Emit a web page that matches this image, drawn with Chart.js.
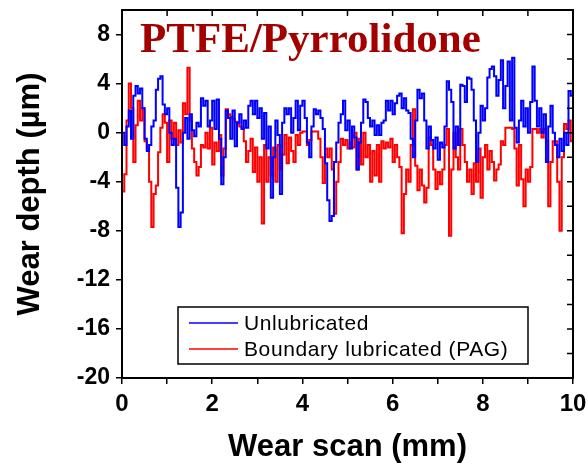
<!DOCTYPE html>
<html>
<head>
<meta charset="utf-8">
<script src="https://cdn.jsdelivr.net/npm/chart.js@4/dist/chart.umd.min.js"></script>
<style>
  html, body { margin: 0; padding: 0; background: #fff; }
  #wrap { width: 588px; height: 466px; }
</style>
</head>
<body>
<div id="wrap"><canvas id="myChart" width="588" height="466"></canvas></div>
<script>
// Dữ liệu (bước quét 0.05 mm, từ 0 đến 10 mm)
const scanStep = 0.05;
const seriesNames = ['Unlubricated', 'Boundary lubricated (PAG)'];

const unlubricated = [
  0, -1, 0.5, 1.8, -0.5, 3, 3.8, 3.2, 3.6, 2,
  -0.5, -1.5, -1, 0.5, 1, 3.5, 4.4, 4.6, 2.3, 1.5,
  2, 0, -1, -0.5, -4.5, -7.7, -6.5, 0, 1.2, -0.5,
  1.5, 0.2, -0.3, 0.8, 0.5, 2.8, 2.2, 2.6, 0.5, 1,
  2.6, 0.3, 2.7, -0.5, -4.2, -2, 1.8, 1.2, -0.5, 1.8,
  -1.1, 0.8, 1.5, 0.3, 1, 0.4, 2.2, 2.6, 1.5, 2.6,
  1.2, 2, -0.5, 1.6, -1.3, 0.5, -5.3, -2, 1, -0.2,
  -5, 0.8, 2, 1.5, 2, 0, 1.2, 2.6, 0.2, 2.2,
  2.6, 1.2, -0.8, -2, 0.5, 1.9, 1.5, 1.8, 1.2, 0.3,
  -2.5, -5.5, -7.2, -6.8, -2.4, -0.8, 0.8, 1.5, 2.6, 0.2,
  1, -1.3, 0.5, -0.4, -3, -0.8, 0.8, 2.7, 2.5, 1.2,
  0.5, 1, -0.2, 0.6, -0.2, 0.8, 1, 2.6, 1.8, 2.6,
  1.5, 2.4, 3, 3.2, 2, 2.8, 1.8, 1.6, -0.5, -2,
  1, 3.5, 2.8, 3.2, 1, -1.3, 0.5, -0.6, -1.3, -0.4,
  -2.2, -0.8, -1.2, 0.5, 4.2, 3.5, 2.5, -1.3, 0.5, -1,
  3.9, 3.8, 2.5, 4.5, 4.4, 3.5, 1, -2.4, 0, 2.2,
  1, 2, 4.5, 5.2, 5.4, 4.6, 3, 4.3, 5.9, 2,
  3.8, 5.8, 1, 6.1, 0.4, -0.8, 1, 2.6, 0.5, 2,
  0, 2.5, 5.4, 2.6, 0.5, 2, 0, 1.5, -2.4, 0.5,
  2.2, 0, -1, -2, -0.5, -1.5, 0, -1, 3.4, 3,
  1.8
];

const boundaryPAG = [
  -4.8, -3.4, 1, 4, 2, -2.4, 0.6, 2.6, 1, 2,
  -0.7, -1.3, -4, -7.7, -5, -4.3, -1.6, 0.4, 1.5, 0.8,
  -2.4, 1, -0.5, 0.8, -1, 0.2, -0.8, 2.4, 1.5, 5.3,
  1, -1.3, -2.4, -3.5, -2.8, -1, -1.2, 0, -1.3, 0.4,
  -2.6, -0.8, -1.5, -0.2, -3.5, -1.3, 1.9, 1.5, 1.3, 1.1,
  0.9, 0.7, 0.5, 0.4, -0.7, -2.4, -1.5, -0.5, -3.2, -1.2,
  -4, -2, -7.4, -1, -4, -2, -3.5, -1.2, -4, -1,
  -3, -1.8, -0.2, -2.5, -0.4, -1.5, -2.4, -0.2, -1, 0,
  0.1, 0.1, -1, -0.6, 0.1, 0.1, 0.1, -0.5, -2, -4.1,
  -1.3, -2, -1.3, -3, -6.6, -4, -2.4, -0.5, -1, -0.6,
  -1.3, -0.8, -1.2, 0, -3, -0.5, -2.6, 0, -2, -1,
  -4, -1.5, -3.5, -1, -4, -0.7, -1.3, -0.8, -1.2, -0.5,
  -2.4, -1, -2, -2.8, -8.2, -5, -3, -4, -1, 1.9,
  -2.7, -4.7, -3, -4.3, -5.7, -4.5, -0.4, -1, -3, -4.6,
  -3.2, -4.2, -3, -1, 0.3, -8.4, -3, 0, -2, -3,
  0.3, -1, -2.4, -4, -3, -5, -2.5, -4, -1.3, -5.3,
  -2, -1, -3, -1.5, -2.4, -3.9, -3, -2.6, -0.7, -1,
  0.4, 0.4, 0.4, 0.3, -1.3, -4.3, -1, -3.8, -6, -3,
  -4, -2.8, 0.3, 0.3, 0, 0.3, -0.4, 0.3, -0.7, -6,
  -2.4, -0.7, -0.7, -4, -8, -2, 0.7, 0.3, 1, -0.7,
  0.5
];

const xTickLabels = [0, 2, 4, 6, 8, 10];
const yTickLabels = [8, 4, 0, -4, -8, -12, -16, -20];

function toPoints(values) {
  return values.map((v, i) => ({ x: +(i * scanStep).toFixed(2), y: v }));
}

// Khung, vạch chia hướng vào trong, tiêu đề và chú thích
const framePlugin = {
  id: 'frame',
  afterDatasetsDraw(chart) {
    const { ctx, chartArea: a, scales } = chart;
    ctx.save();
    ctx.strokeStyle = '#000';
    ctx.lineWidth = 2;
    ctx.strokeRect(a.left, a.top, a.right - a.left, a.bottom - a.top);
    ctx.lineWidth = 1.5;
    ctx.beginPath();
    for (let v = 0; v <= 10; v++) {
      const px = scales.x.getPixelForValue(v);
      ctx.moveTo(px, a.top);
      ctx.lineTo(px, a.top + 6);
    }
    for (let v = -20; v <= 10; v += 2) {
      const py = scales.y.getPixelForValue(v);
      ctx.moveTo(a.right, py);
      ctx.lineTo(a.right - 6, py);
    }
    ctx.stroke();

    // tiêu đề
    ctx.fillStyle = '#a30000';
    ctx.font = 'bold 43px "Liberation Serif", "Times New Roman", serif';
    ctx.textBaseline = 'alphabetic';
    ctx.textAlign = 'left';
    ctx.fillText('PTFE/Pyrrolidone', 140, 52);

    // chú thích
    const box = { x: 178, y: 307, w: 350, h: 57 };
    ctx.fillStyle = '#fff';
    ctx.fillRect(box.x, box.y, box.w, box.h);
    ctx.strokeStyle = '#000';
    ctx.lineWidth = 1.5;
    ctx.strokeRect(box.x, box.y, box.w, box.h);
    const colors = ['#0000ff', '#ff0000'];
    const rows = [323, 349];
    ctx.font = '21px Arial, "Liberation Sans", sans-serif';
    ctx.letterSpacing = '0.6px';
    ctx.textBaseline = 'middle';
    rows.forEach((ry, i) => {
      ctx.strokeStyle = colors[i];
      ctx.lineWidth = 1.5;
      ctx.beginPath();
      ctx.moveTo(189, ry);
      ctx.lineTo(238, ry);
      ctx.stroke();
      ctx.fillStyle = '#000';
      ctx.fillText(seriesNames[i], 244, ry + 1);
    });
    ctx.restore();
  }
};

var ctx = document.getElementById('myChart').getContext('2d');
var myChart = new Chart(ctx, {
  type: 'line',
  data: {
    datasets: [
      {
        label: seriesNames[0],
        data: toPoints(unlubricated),
        borderColor: '#0000ff',
        borderWidth: 2,
        pointRadius: 0,
        stepped: true,
        fill: false
      },
      {
        label: seriesNames[1],
        data: toPoints(boundaryPAG),
        borderColor: '#ff0000',
        borderWidth: 2,
        pointRadius: 0,
        stepped: true,
        fill: false
      }
    ]
  },
  options: {
    responsive: false,
    animation: false,
    events: [],
    layout: { autoPadding: false, padding: { top: 10, right: 15, left: 0, bottom: 0 } },
    plugins: { legend: { display: false }, tooltip: { enabled: false } },
    scales: {
      x: {
        type: 'linear',
        min: 0,
        max: 10,
        afterFit: s => {
          s.height = 88;
          s.paddingLeft = 0;
          s.paddingRight = 0;
        },
        ticks: {
          stepSize: 1,
          color: '#000',
          font: { family: 'Arial, "Liberation Sans", sans-serif', size: 24, weight: 'bold' },
          padding: 6,
          maxRotation: 0,
          callback: v => xTickLabels.includes(v) ? String(v) : ''
        },
        grid: { drawOnChartArea: false, drawTicks: true, tickLength: 6, color: '#000', lineWidth: 1.5 },
        border: { display: true, color: '#000', width: 2 },
        title: {
          display: true,
          text: 'Wear scan (mm)',
          color: '#000',
          font: { family: 'Arial, "Liberation Sans", sans-serif', size: 31, weight: 'bold', lineHeight: 1 },
          padding: { top: 0, bottom: 3 }
        }
      },
      y: {
        min: -20,
        max: 10,
        afterFit: s => {
          s.width = 122;
          s.paddingTop = 0;
          s.paddingBottom = 0;
        },
        ticks: {
          stepSize: 2,
          color: '#000',
          font: { family: 'Arial, "Liberation Sans", sans-serif', size: 23, weight: 'bold' },
          padding: 6,
          callback: v => yTickLabels.includes(v) ? String(v) : ''
        },
        grid: { drawOnChartArea: false, drawTicks: true, tickLength: 6, color: '#000', lineWidth: 1.5 },
        border: { display: true, color: '#000', width: 2 },
        title: {
          display: true,
          text: 'Wear depth (µm)',
          color: '#000',
          font: { family: 'Arial, "Liberation Sans", sans-serif', size: 31, weight: 'bold', lineHeight: 1 },
          padding: { top: 15, bottom: 0 }
        }
      }
    }
  },
  plugins: [framePlugin]
});
</script>
</body>
</html>
